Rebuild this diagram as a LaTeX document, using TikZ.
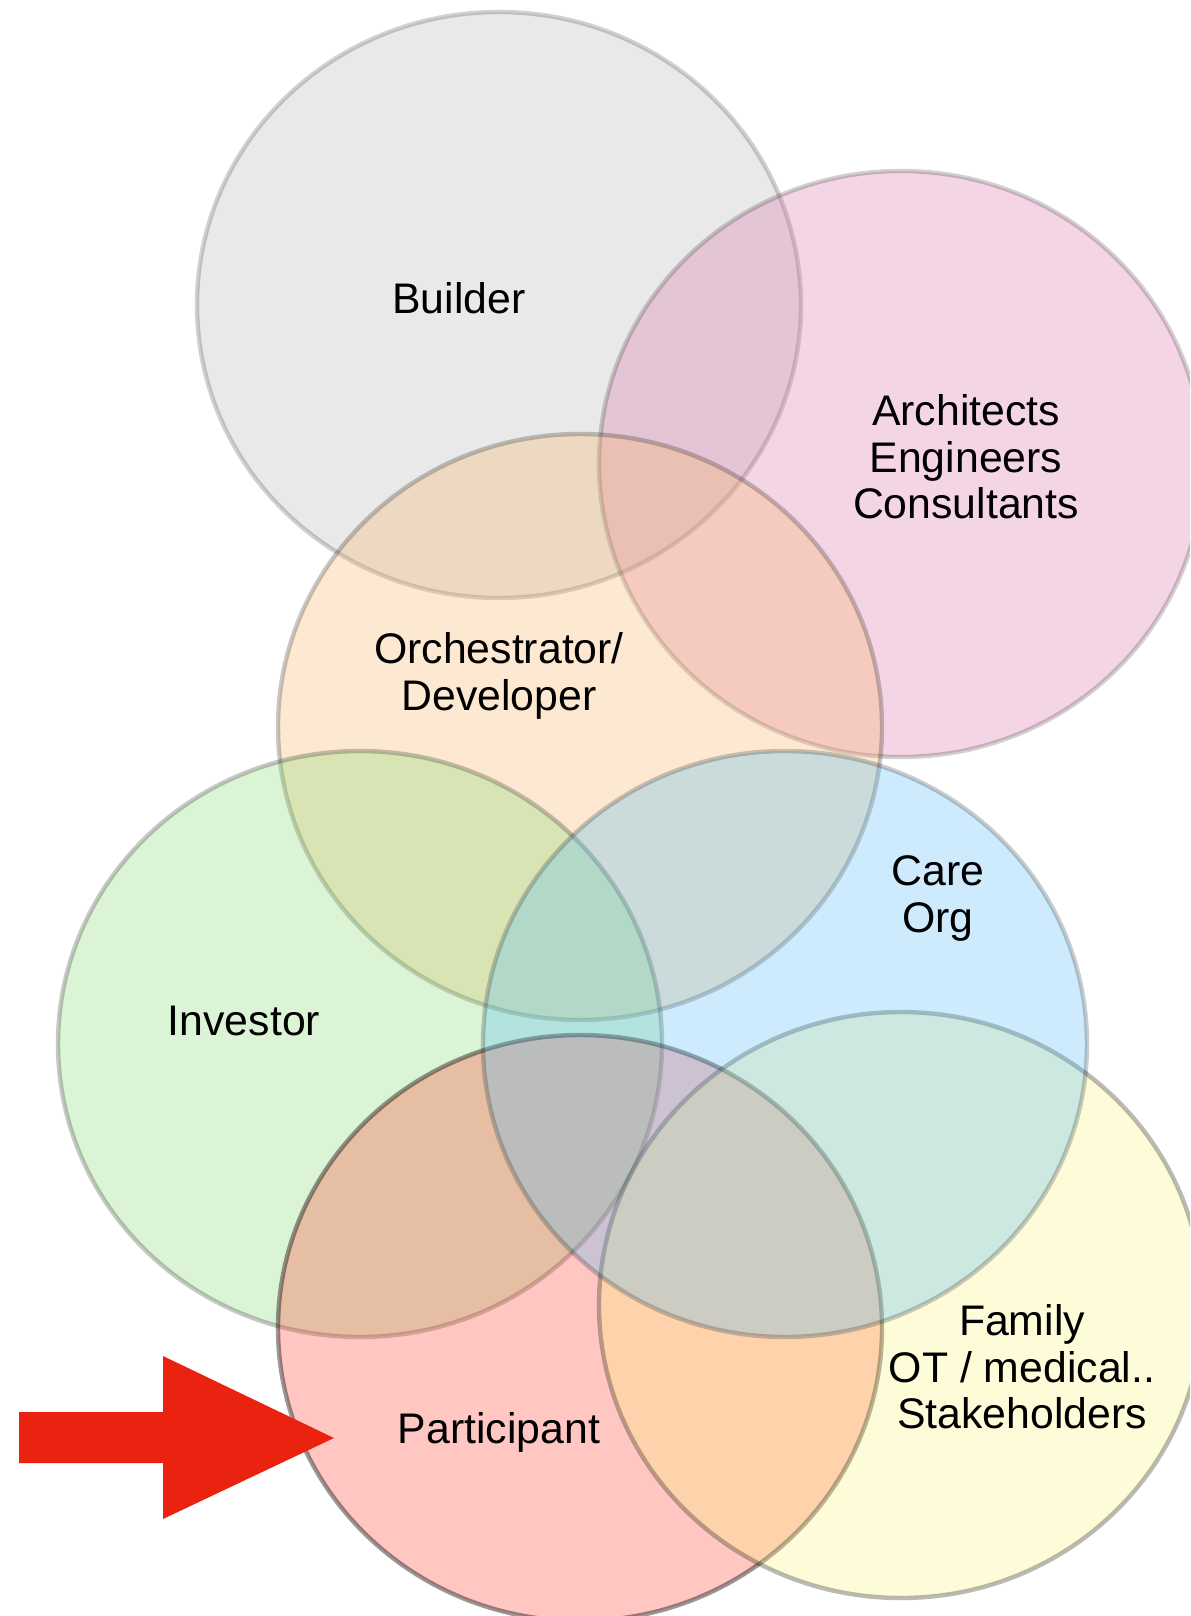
\documentclass[tikz,border=0pt]{standalone}
\usepackage{fontspec}
\setmainfont{Liberation Sans}
\definecolor{cB}{HTML}{B6B6B6}
\definecolor{cA}{HTML}{DA73A8}
\definecolor{cO}{HTML}{F8B669}
\definecolor{cI}{HTML}{87DA73}
\definecolor{cP}{HTML}{FF4134}
\definecolor{cF}{HTML}{FCF27D}
\definecolor{cC}{HTML}{58BCF5}
\definecolor{arrowred}{HTML}{E9230F}
\begin{document}
\begin{tikzpicture}[x=0.5pt,y=-0.5pt,
  venn/.style={line width=2.2pt, draw=black, fill opacity=0.3},
  lbl/.style={anchor=base, inner sep=0pt, font=\fontsize{21.4pt}{24pt}\selectfont, text=black}]
\useasboundingbox (0,0) rectangle (1190,1616);
\begin{scope}
\clip (0,0) rectangle (1190,1616);
\draw[venn, fill=cB, draw opacity=0.18] (499,305) ellipse [x radius=302, y radius=293];
\draw[venn, fill=cA, draw opacity=0.18] (901,464) ellipse [x radius=302, y radius=293];
\draw[venn, fill=cO, draw opacity=0.22] (580,727) ellipse [x radius=302, y radius=293];
\draw[venn, fill=cI, draw opacity=0.22] (360,1044) ellipse [x radius=302, y radius=293];
\draw[venn, fill=cP, draw opacity=0.4] (580,1328) ellipse [x radius=302, y radius=293];
\draw[venn, fill=cF, draw opacity=0.27] (901,1305) ellipse [x radius=302, y radius=293];
\draw[venn, fill=cC, draw opacity=0.2] (785,1044) ellipse [x radius=302, y radius=293];
\end{scope}
\fill[arrowred] (19,1412) -- (163,1412) -- (163,1356) -- (334,1438) -- (163,1519) -- (163,1463) -- (19,1463) -- cycle;
\node[lbl] (builder) at (459,313) {Builder};
\node[lbl] (arch1) at (966,425) {Architects};
\node[lbl] (arch2) at (966,472) {Engineers};
\node[lbl] (arch3) at (966,518) {Consultants};
\node[lbl] (orch1) at (499,663) {Orchestrator/};
\node[lbl] (orch2) at (499,710) {Developer};
\node[lbl] (investor) at (244,1035) {Investor};
\node[lbl] (care1) at (938,885) {Care};
\node[lbl] (care2) at (938,932) {Org};
\node[lbl] (fam1) at (1022,1335) {Family};
\node[lbl] (fam2) at (1022,1382) {OT / medical..};
\node[lbl] (fam3) at (1022,1428) {Stakeholders};
\node[lbl] (participant) at (499,1443) {Participant};
\end{tikzpicture}
\end{document}
